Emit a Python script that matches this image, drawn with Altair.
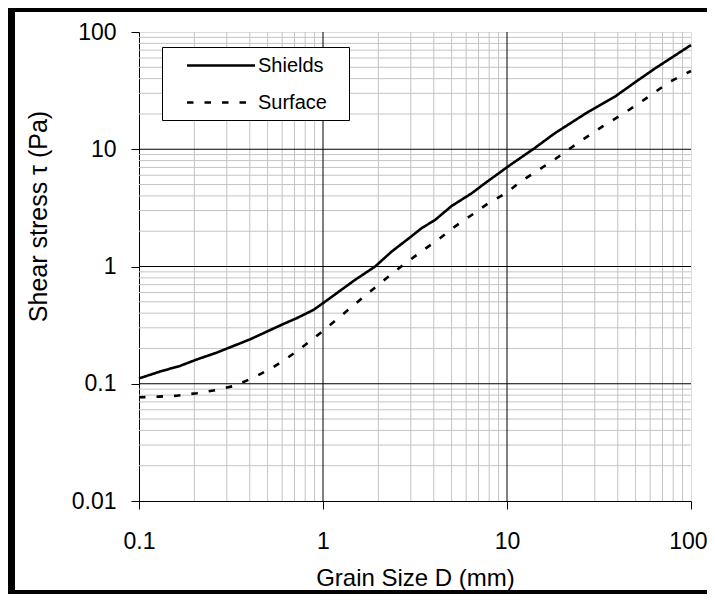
import altair as alt
import pandas as pd

# ---- data ----
shields_d = [0.1, 0.13, 0.167, 0.206, 0.264, 0.326, 0.401, 0.494, 0.608, 0.719, 0.887, 1.026,
             1.49, 1.92, 2.36, 2.97, 3.43, 4.06, 5.0, 6.43, 7.58, 10.1, 14.1, 18.2, 27.7, 38.6,
             50.2, 63.9, 100]
shields_tau = [0.111, 0.127, 0.142, 0.161, 0.184, 0.210, 0.239, 0.278, 0.323, 0.362, 0.426, 0.501,
               0.767, 1.0, 1.34, 1.77, 2.12, 2.49, 3.28, 4.21, 5.12, 7.1, 10.2, 13.7, 20.9, 28.1,
               37.7, 49.0, 77.4]
surface_d = [0.1, 0.127, 0.16, 0.206, 0.264, 0.332, 0.418, 0.526, 0.648, 0.799, 1.004, 1.236,
             1.80, 2.27, 2.79, 3.51, 4.32, 5.21, 6.43, 7.91, 9.95, 12.0, 14.8, 18.2, 22.5, 27.7,
             33.4, 41.1, 51.3, 62.4, 76.9, 100]
surface_tau = [0.0766, 0.0776, 0.079, 0.083, 0.0885, 0.0962, 0.1127, 0.1355, 0.168, 0.214, 0.284,
               0.373, 0.61, 0.82, 1.06, 1.38, 1.74, 2.19, 2.75, 3.46, 4.26, 5.36, 6.65, 8.2, 10.4,
               13.0, 15.8, 19.3, 24.2, 30.0, 37.7, 46.5]
series_names = ["Shields", "Surface"]

x_ticks = [0.1, 1, 10, 100]
y_ticks = [0.01, 0.1, 1, 10, 100]
x_minor = [m * 10 ** e for e in (-1, 0, 1) for m in range(2, 10)]
y_minor = [m * 10 ** e for e in (-2, -1, 0, 1) for m in range(2, 10)]
x_major = [1, 10]
y_major = [0.1, 1, 10]

FONT = "Liberation Sans"

df = pd.concat([
    pd.DataFrame({"D": shields_d, "tau": shields_tau, "series": series_names[0], "order": range(len(shields_d))}),
    pd.DataFrame({"D": surface_d, "tau": surface_tau, "series": series_names[1], "order": range(len(surface_d))}),
])

xscale = alt.Scale(type="log", domain=[0.1, 100], nice=False)
yscale = alt.Scale(type="log", domain=[0.01, 100], nice=False)

xaxis = alt.Axis(values=x_ticks, format="~g", grid=False, tickSize=8, labelPadding=39,
                 labelBaseline="alphabetic", labelFontSize=23, labelFont=FONT, labelColor="black",
                 domainColor="black", tickColor="black", title="Grain Size D  (mm)",
                 titleFont=FONT, titleFontSize=24, titleFontWeight="normal", titleColor="black",
                 titleY=84, titleBaseline="alphabetic", labelFlush=True, labelFlushOffset=16)
yaxis = alt.Axis(values=y_ticks, format="~g", grid=False, tickSize=8, labelPadding=15,
                 labelFontSize=23, labelFont=FONT, labelColor="black",
                 domainColor="black", tickColor="black", title="Shear stress τ (Pa)",
                 titleFont=FONT, titleFontSize=25, titleFontWeight="normal", titleColor="black",
                 titleX=-93, titleY=184, titleAlign="center", titleBaseline="alphabetic",
                 titleAngle=270, labelFlush=False)

minor_x = alt.Chart(pd.DataFrame({"v": x_minor})).mark_rule(color="#c4c4c4", strokeWidth=1).encode(
    x=alt.X("v:Q", scale=xscale, axis=xaxis))
minor_y = alt.Chart(pd.DataFrame({"v": y_minor})).mark_rule(color="#c4c4c4", strokeWidth=1).encode(
    y=alt.Y("v:Q", scale=yscale, axis=yaxis))
major_x = alt.Chart(pd.DataFrame({"v": x_major})).mark_rule(color="black", strokeWidth=1).encode(
    x=alt.X("v:Q", scale=xscale, axis=xaxis))
major_y = alt.Chart(pd.DataFrame({"v": y_major})).mark_rule(color="black", strokeWidth=1).encode(
    y=alt.Y("v:Q", scale=yscale, axis=yaxis))

lines = alt.Chart(df).mark_line(strokeWidth=2.6, color="black").encode(
    x=alt.X("D:Q", scale=xscale, axis=xaxis),
    y=alt.Y("tau:Q", scale=yscale, axis=yaxis),
    order="order:Q",
    detail="series:N",
    strokeDash=alt.StrokeDash(
        "series:N",
        scale=alt.Scale(domain=series_names, range=[[1, 0], [6.5, 11]]),
        legend=alt.Legend(orient="none", legendX=23, legendY=15, title=None,
                          fillColor="white", strokeColor="black", padding=7,
                          symbolType="M0.65,0H7.45M15.6,0L15.6,0", symbolSize=400,
                          symbolStrokeWidth=2.6, symbolStrokeColor="black",
                          labelFont=FONT, labelFontSize=20,
                          labelColor="black", labelOffset=66, rowPadding=15),
    ),
)

# decorative outer frame of the figure (left, top, bottom bars)
frame_df = pd.DataFrame({"k": [0]})
left_bar = alt.Chart(frame_df).mark_rect(color="black", clip=False).encode(
    x=alt.value(-131), x2=alt.value(-124), y=alt.value(-24), y2=alt.value(562))
top_bar = alt.Chart(frame_df).mark_rect(color="black", clip=False).encode(
    x=alt.value(-131), x2=alt.value(568), y=alt.value(-24), y2=alt.value(-20))
bottom_bar = alt.Chart(frame_df).mark_rect(color="black", clip=False).encode(
    x=alt.value(-131), x2=alt.value(568), y=alt.value(558), y2=alt.value(562))

chart = alt.layer(minor_x, minor_y, major_x, major_y, lines, left_bar, top_bar, bottom_bar).properties(
    width=552, height=469,
    autosize=alt.AutoSizeParams(type="none"),
    padding={"left": 131, "top": 24, "right": 16, "bottom": 93},
).configure_view(stroke="#7a7a7a", strokeWidth=1).configure(background="white")

chart.save("out.html", embed_options={"renderer": "svg", "actions": False})
